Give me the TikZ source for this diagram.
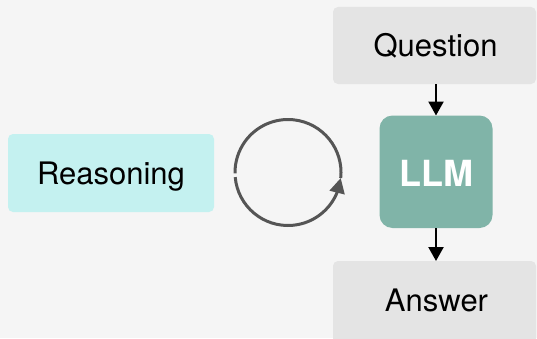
\documentclass[tikz,border=0pt]{standalone}
\usepackage{fontspec}
\setmainfont{TeX Gyre Heros}
\usetikzlibrary{arrows.meta,bending,calc}
\definecolor{bgc}{HTML}{F5F5F5}
\definecolor{greybox}{HTML}{E4E4E4}
\definecolor{cyanbox}{HTML}{C4F1F0}
\definecolor{llmgreen}{HTML}{80B4A8}
\definecolor{loopgrey}{HTML}{555555}
\begin{document}
\begin{tikzpicture}[x=1pt,y=1pt,
  labeltext/.style={font=\fontsize{31}{31}\selectfont, text=black, anchor=base, inner sep=0pt},
  greyrect/.style={fill=greybox, rounded corners=5pt},
  flowarrow/.style={line width=2.3pt, -{Triangle[length=14pt,width=15pt]}},
  loopline/.style={draw=loopgrey, line width=3pt}]
  % canvas
  \fill[bgc] (0,0) rectangle (537,338);
  \useasboundingbox (0,0) rectangle (537,338);

  % boxes
  \fill[greyrect] (333,254) rectangle (536,331);
  \node[labeltext] (question) at (435.5,281) {Question};
  \coordinate (qbot) at (436,254);

  \fill[greyrect] (333,-20) rectangle (536,77);
  \node[labeltext] (answer) at (436.5,26.5) {Answer};
  \coordinate (atop) at (436,77);

  \fill[cyanbox, rounded corners=5pt] (8,126) rectangle (214,204);
  \node[labeltext] (reasoning) at (111,154) {Reasoning};

  \fill[llmgreen, rounded corners=13pt] (379.5,110) rectangle (492.5,222.5);
  \node[font=\fontsize{36}{36}\selectfont\bfseries, text=white, anchor=base, inner sep=0pt] (llm) at (436,152) {LLM};
  \coordinate (ltop) at (436,222.5);
  \coordinate (lbot) at (436,110);

  % arrows into and out of the model
  \draw[flowarrow] (qbot) -- (ltop);
  \draw[flowarrow] (lbot) -- (atop);

  % loop
  \coordinate (loopc) at (288,165.5);
  \draw[loopline] ($(loopc)+(-6:53)$) arc[start angle=-6, end angle=181, radius=53];
  \draw[loopline, -{Triangle[length=15pt,width=15pt,flex]}]
    ($(loopc)+(185:53)$) arc[start angle=185, end angle=354, radius=53];
\end{tikzpicture}
\end{document}
